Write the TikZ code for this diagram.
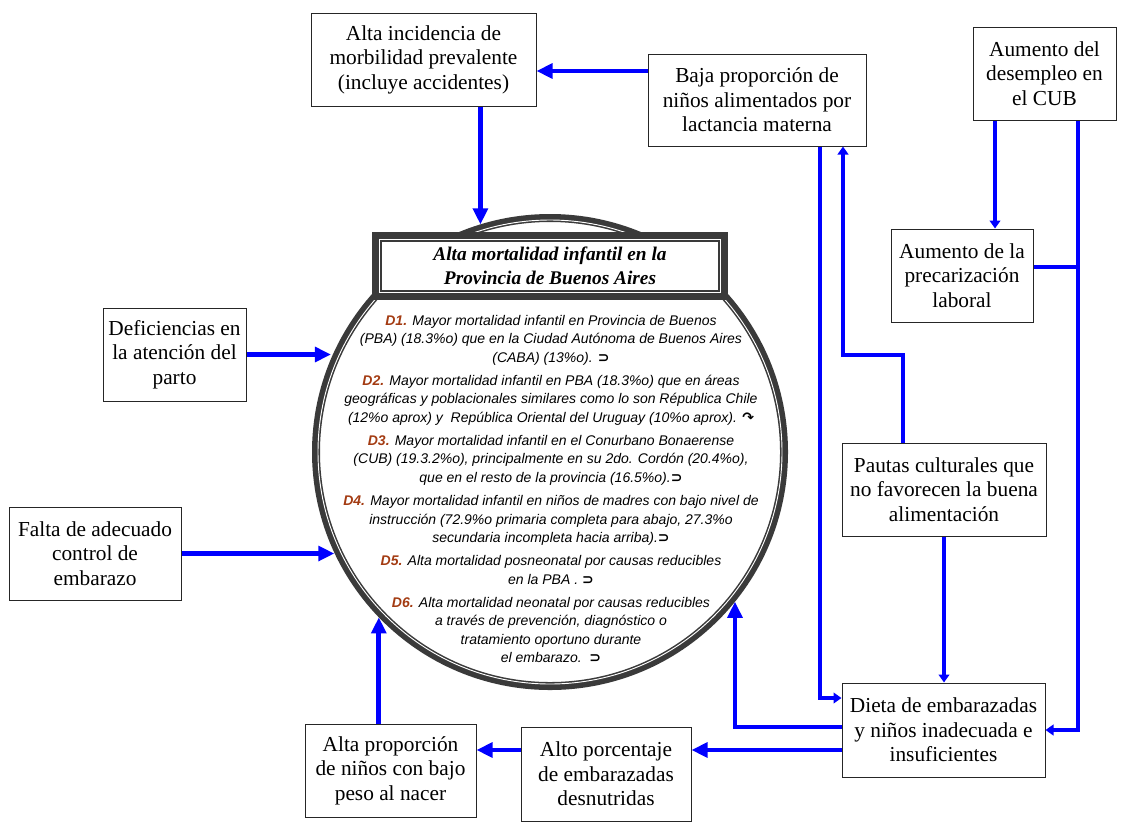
\documentclass[tikz,border=0pt]{standalone}
\usepackage{fontspec}
\setmainfont{Liberation Serif}
\newfontfamily\arialfont{Liberation Sans}
\newfontfamily\arrowfont{DejaVu Sans}
\usetikzlibrary{arrows.meta}

\definecolor{arrowblue}{RGB}{0,0,255}
\definecolor{ringgray}{RGB}{58,58,58}
\definecolor{dred}{RGB}{163,59,18}

\newcommand{\dlab}[1]{{\bfseries\color{dred}#1}}
\newcommand{\linkmark}{{\arrowfont\bfseries ⊃}}
\newcommand{\backmark}{{\arrowfont\bfseries ↷}}

\begin{document}
\begin{tikzpicture}[x=0.75pt, y=-0.75pt,
        causebox/.style={draw=black!85, line width=0.75pt, fill=white, align=center, inner sep=0pt,
            font=\fontsize{16}{18.4}\selectfont},
        bigarrow/.style={draw=arrowblue, line width=3.6pt, -{Triangle[length=12pt,width=11pt]}},
        smallarrow/.style={draw=arrowblue, line width=3pt, -{Triangle[length=6pt,width=8pt]}},
        rail/.style={draw=arrowblue, line width=3pt}]
    \useasboundingbox (0,0) rectangle (1126,825);

    % Central problem: ring and title
    \node[circle, minimum size=357pt, inner sep=0pt, outer sep=0pt] (circ) at (550,452) {};
    \draw[ringgray, line width=6pt] (circ.center) circle (175.5pt);
    \draw[white, line width=0.7pt] (circ.center) circle (174pt);

    \node[fill=white, draw=ringgray, line width=5.25pt, minimum width=261.75pt, minimum height=45.75pt,
        inner sep=0pt, outer sep=0pt, align=center,
        font=\fontsize{14.5}{18}\selectfont\bfseries\itshape] (ttl) at (550,266)
        {Alta mortalidad infantil en la\\Provincia de Buenos Aires};
    \draw[ringgray, line width=0.9pt] ([shift={(4.1pt,-4.1pt)}]ttl.north west) rectangle ([shift={(-4.1pt,4.1pt)}]ttl.south east);

    % Indicators D1 to D6
    \node[align=center, font=\arialfont\itshape\fontsize{10.5}{13.9}\selectfont] (dtext) at (551,489) {%
        \dlab{D1.} Mayor mortalidad infantil en Provincia de Buenos\\
        (PBA) (18.3\%o) que en la Ciudad Autónoma de Buenos Aires\\
        (CABA) (13\%o). \linkmark\\[3.4pt]
        \dlab{D2.} Mayor mortalidad infantil en PBA (18.3\%o) que en áreas\\
        geográficas y poblacionales similares como lo son Républica Chile\\
        (12\%o aprox) y\ \ República Oriental del Uruguay (10\%o aprox). \backmark\\[3.4pt]
        \dlab{D3.} Mayor mortalidad infantil en el Conurbano Bonaerense\\
        (CUB) (19.3.2\%o), principalmente en su 2do. Cordón (20.4\%o),\\
        que en el resto de la provincia (16.5\%o).\linkmark\\[3.4pt]
        \dlab{D4.} Mayor mortalidad infantil en niños de madres con bajo nivel de\\
        instrucción (72.9\%o primaria completa para abajo, 27.3\%o\\
        secundaria incompleta hacia arriba).\linkmark\\[3.4pt]
        \dlab{D5.} Alta mortalidad posneonatal por causas reducibles\\
        en la PBA . \linkmark\\[3.4pt]
        \dlab{D6.} Alta mortalidad neonatal por causas reducibles\\
        a través de prevención, diagnóstico o\\
        tratamiento oportuno durante\\
        el embarazo.\ \ \linkmark};

    % Causes
    \node[causebox, minimum width=168.75pt, minimum height=69.75pt] (morb) at (423.5,59.5)
        {Alta incidencia de\\morbilidad prevalente\\(incluye accidentes)};
    \node[causebox, minimum width=163.5pt, minimum height=69pt] (lact) at (757,100)
        {Baja proporción de\\niños alimentados por\\lactancia materna};
    \node[causebox, minimum width=107.25pt, minimum height=69.75pt] (desem) at (1044.5,73.5)
        {Aumento del\\desempleo en\\el CUB};
    \node[causebox, minimum width=106.5pt, minimum height=69.75pt] (prec) at (962,275.5)
        {Aumento de la\\precarización\\laboral};
    \node[causebox, minimum width=153pt, minimum height=69.75pt] (paut) at (944,489.5)
        {Pautas culturales que\\no favorecen la buena\\alimentación};
    \node[causebox, minimum width=152.25pt, minimum height=70.5pt] (dieta) at (943.5,730)
        {Dieta de embarazadas\\y niños inadecuada e\\insuficientes};
    \node[causebox, minimum width=127.5pt, minimum height=70.5pt] (desnut) at (606,774)
        {Alto porcentaje\\de embarazadas\\desnutridas};
    \node[causebox, minimum width=128.25pt, minimum height=69.75pt] (peso) at (390.5,770.5)
        {Alta proporción\\de niños con bajo\\peso al nacer};
    \node[causebox, minimum width=107.25pt, minimum height=69.75pt] (defic) at (174.5,354.5)
        {Deficiencias en\\la atención del\\parto};
    \node[causebox, minimum width=129pt, minimum height=69.75pt] (falta) at (95,553.5)
        {Falta de adecuado\\control de\\embarazo};

    % Arrows into the central problem
    \draw[bigarrow] (lact.west |- 0,71) -- (morb.east |- 0,71);
    \draw[bigarrow] (morb.south -| circ.107) -- (circ.107);
    \foreach \src/\ang in {defic/157, falta/205}
        \draw[bigarrow] (\src.east) -- (\src.east -| circ.\ang);
    \draw[bigarrow] (peso.north -| circ.224) -- (circ.224);
    \draw[bigarrow] (desnut.west |- 0,750) -- (peso.east |- 0,750);
    \draw[bigarrow] (dieta.west |- 0,750) -- (desnut.east |- 0,750);
    \draw[bigarrow] (dieta.west |- 0,727) -| (circ.321);

    % Right hand links
    \draw[smallarrow] (lact.south -| 820,0) |- (dieta.west |- 0,698);
    \draw[smallarrow] (paut.north -| 903,0) |- (843,355) -- (lact.south -| 843,0);
    \draw[smallarrow] (paut.south) -- (paut.south |- dieta.north);
    \draw[smallarrow] (desem.south -| 995,0) -- (prec.north -| 995,0);
    \coordinate (jct) at (1078,267);
    \draw[smallarrow] (desem.south -| jct) |- (dieta.east);
    \draw[rail] (prec.east |- jct) -- (jct);
\end{tikzpicture}
\end{document}
